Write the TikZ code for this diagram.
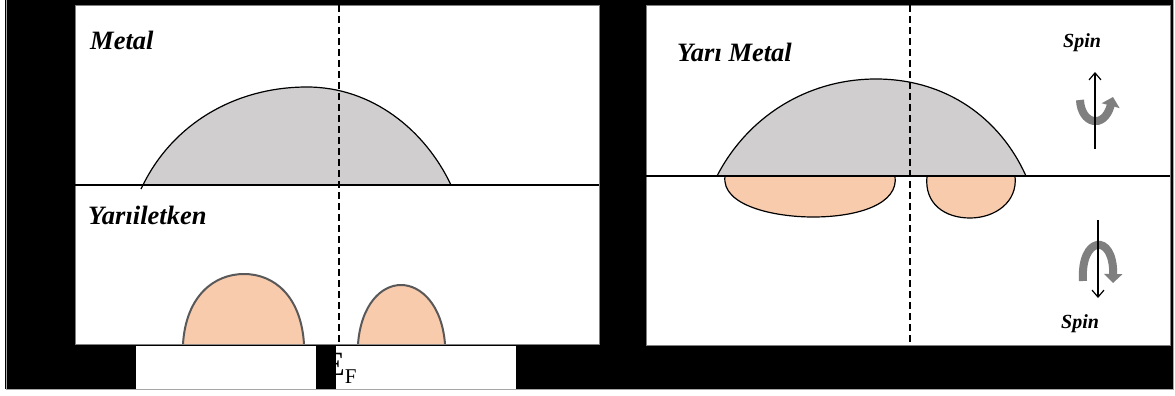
\documentclass[tikz,border=0pt]{standalone}
\usepackage{fontspec}
\setmainfont{Liberation Serif}
\usetikzlibrary{arrows.meta}
\definecolor{domegray}{HTML}{D0CECE}
\definecolor{peach}{HTML}{F8CBAD}
\definecolor{humpline}{HTML}{595959}
\definecolor{spingray}{HTML}{7F7F7F}
\begin{document}
\begin{tikzpicture}[x=1pt,y=-1pt,
  lbl/.style={inner sep=0pt, anchor=base west, font=\fontsize{26.5}{26.5}\selectfont\bfseries\itshape},
  spinlbl/.style={inner sep=0pt, anchor=base west, font=\fontsize{20}{20}\selectfont\bfseries\itshape},
  panel/.style={fill=white, draw=gray, line width=0.8pt},
  axisline/.style={black, line width=1.4pt},
  dashline/.style={black, line width=1.5pt, dash pattern=on 7pt off 4pt},
  domefill/.style={fill=domegray},
  domeline/.style={draw=black, line width=1.2pt},
  humpfill/.style={fill=peach},
  humpdraw/.style={draw=humpline, line width=2pt},
  lobestyle/.style={fill=peach, draw=black, line width=1.2pt},
  spinaxis/.style={black, line width=1.2pt, -{Straight Barb[length=7pt,width=12pt]}},
  curl/.style={spingray, line width=8pt, -{Triangle[length=9pt,width=18pt]}}]
\useasboundingbox (0,0) rectangle (1175,396);
\fill[white] (0,0) rectangle (1175,396);
\fill[black] (5,0) rectangle (1173,389);
\draw[gray!70, line width=1pt] (6,0) -- (6,389) -- (1173,389) -- (1173,0);
% panels
\path[panel] (75,5) rectangle (599,344);
\path[panel] (646,5) rectangle (1170,345);
\fill[white] (136,346) rectangle (316,389);
\fill[white] (336,346) rectangle (516,389);
% left panel: metal
\path[domefill] (143,185) .. controls (173,124) and (235,87) .. (307,87)
   .. controls (372,87) and (425,130) .. (451,185) -- cycle;
\path[domeline] (141,189) -- (143,185) .. controls (173,124) and (235,87) .. (307,87)
   .. controls (372,87) and (425,130) .. (451,185);
\coordinate (lA) at (75,185);
\coordinate (lB) at (599,185);
\draw[axisline] (lA) -- (lB);
% semiconductor humps
\fill[humpfill] (183,344) .. controls (186,296) and (214,274) .. (244,274)
   .. controls (274,274) and (301,296) .. (304,344) -- cycle;
\draw[humpdraw] (183,344) .. controls (186,296) and (214,274) .. (244,274)
   .. controls (274,274) and (301,296) .. (304,344);
\fill[humpfill] (358,344) .. controls (361,305) and (381,285) .. (401,285)
   .. controls (421,285) and (442,305) .. (445,344) -- cycle;
\draw[humpdraw] (358,344) .. controls (361,305) and (381,285) .. (401,285)
   .. controls (421,285) and (442,305) .. (445,344);
\coordinate (lT) at (339,5);
\coordinate (lD) at (339,344);
\draw[dashline] (lT) -- (lD);
\node[lbl] (metal) at (90,50) {Metal};
\node[lbl] (yari) at (88,224) {Yarıiletken};
\node[inner sep=0pt, anchor=base west] (ef) at (324,375)
  {\fontsize{34}{34}\selectfont E\raisebox{-8pt}{\fontsize{21}{21}\selectfont F}};
% right panel: half metal
\path[lobestyle] (725,176) .. controls (721,206) and (775,217) .. (813,217)
   .. controls (858,217) and (899,204) .. (895,176);
\path[lobestyle] (927,176) .. controls (924,204) and (945,218) .. (970,218)
   .. controls (995,218) and (1018,202) .. (1015,176);
\path[domefill] (717,176) .. controls (748,116) and (808,79) .. (876,79)
   .. controls (946,79) and (1000,118) .. (1026,176) -- cycle;
\path[domeline] (717,176) .. controls (748,116) and (808,79) .. (876,79)
   .. controls (946,79) and (1000,118) .. (1026,176);
\coordinate (rA) at (646,176);
\coordinate (rB) at (1170,176);
\draw[axisline] (rA) -- (rB);
\coordinate (rT) at (910,5);
\coordinate (rD) at (910,345);
\draw[dashline] (rT) -- (rD);
\node[lbl] (yarimetal) at (677,62) {Yarı Metal};
\node[spinlbl] (spinup) at (1063,48) {Spin};
\node[spinlbl] (spindown) at (1061,328) {Spin};
% spin up
\draw[curl] (1080,100) .. controls (1081,124) and (1104,130) .. (1113,97);
\coordinate (u0) at (1095,149);
\coordinate (u1) at (1095,72);
\draw[spinaxis] (u0) -- (u1);
% spin down
\draw[curl] (1083,281) .. controls (1080,236) and (1114,232) .. (1113,283);
\coordinate (d0) at (1098,220);
\coordinate (d1) at (1098,298);
\draw[spinaxis] (d0) -- (d1);
\end{tikzpicture}
\end{document}
